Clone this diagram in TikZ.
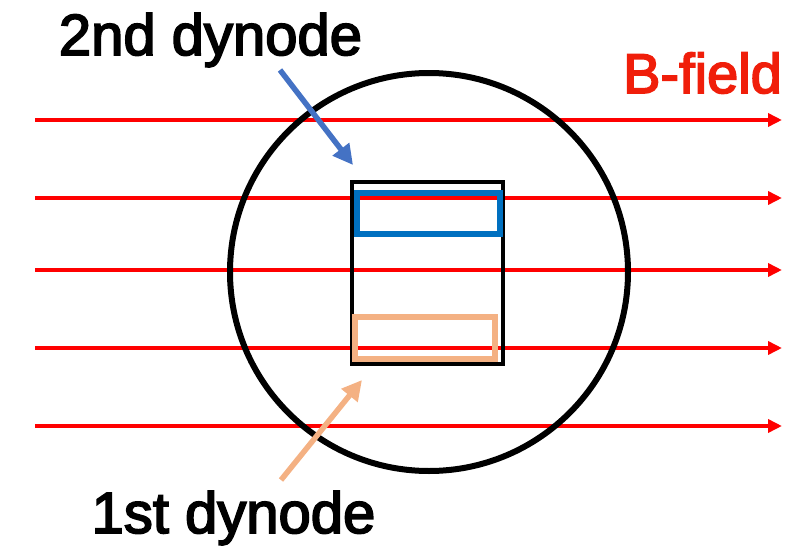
\documentclass[tikz,border=0pt]{standalone}
\usepackage{fontspec}
\setmainfont{Liberation Sans}
\newfontfamily\labelfont{Liberation Sans}[RawFeature={embolden=3}]
\usetikzlibrary{arrows.meta}
\definecolor{fieldred}{HTML}{FF0000}
\definecolor{labelred}{HTML}{F01E0A}
\definecolor{dynblue}{HTML}{0070C0}
\definecolor{ptrblue}{HTML}{4472C4}
\definecolor{dynorange}{HTML}{F4B183}
\tikzset{
  fieldline/.style={draw=fieldred, line width=3.5pt, -{Triangle[length=14pt,width=13pt]}},
  pointer/.style={line width=5.5pt, -{Triangle[length=20pt,width=20pt]}},
  label/.style={font=\labelfont\fontsize{58}{60}\selectfont, anchor=base, inner sep=0pt},
  box/.style={rectangle, inner sep=0pt, outer sep=0pt}
}
\begin{document}
\begin{tikzpicture}[x=1pt, y=-1pt]
  \useasboundingbox (0,0) rectangle (809,546);

  % magnetic field lines
  \foreach \y [count=\i] in {120,198,270,348,426} {
    \coordinate (fs\i) at (35,\y);
    \coordinate (fe\i) at (782,\y);
    \draw[fieldline] (fs\i) -- (fe\i);
  }

  % photomultiplier outline
  \node[circle, draw=black, line width=6pt, minimum size=398pt, inner sep=0pt] (pmt) at (429,272) {};

  % dynode stack
  \node[box, draw=black, line width=4pt, minimum width=151pt, minimum height=182pt] (stack) at (427.5,273) {};
  \node[box, draw=dynblue, line width=6.5pt, minimum width=143pt, minimum height=41pt] (dyn2) at (428.5,213.5) {};
  \node[box, draw=dynorange, line width=6.5pt, minimum width=140pt, minimum height=42pt] (dyn1) at (425,338) {};

  % labels
  \node[label] (t2) at (210.5,55) {2nd dynode};
  \node[label] (t1) at (233.5,533) {1st dynode};
  \node[label, text=labelred, font=\labelfont\fontsize{56}{60}\selectfont] (tb) at (702.5,93) {B-field};

  % pointers
  \coordinate (p2s) at (280,70);
  \coordinate (p2e) at (353,165);
  \coordinate (p1s) at (281,480);
  \coordinate (p1e) at (362,380);
  \draw[pointer, draw=ptrblue, fill=ptrblue] (p2s) -- (p2e);
  \draw[pointer, draw=dynorange, fill=dynorange] (p1s) -- (p1e);
\end{tikzpicture}
\end{document}
